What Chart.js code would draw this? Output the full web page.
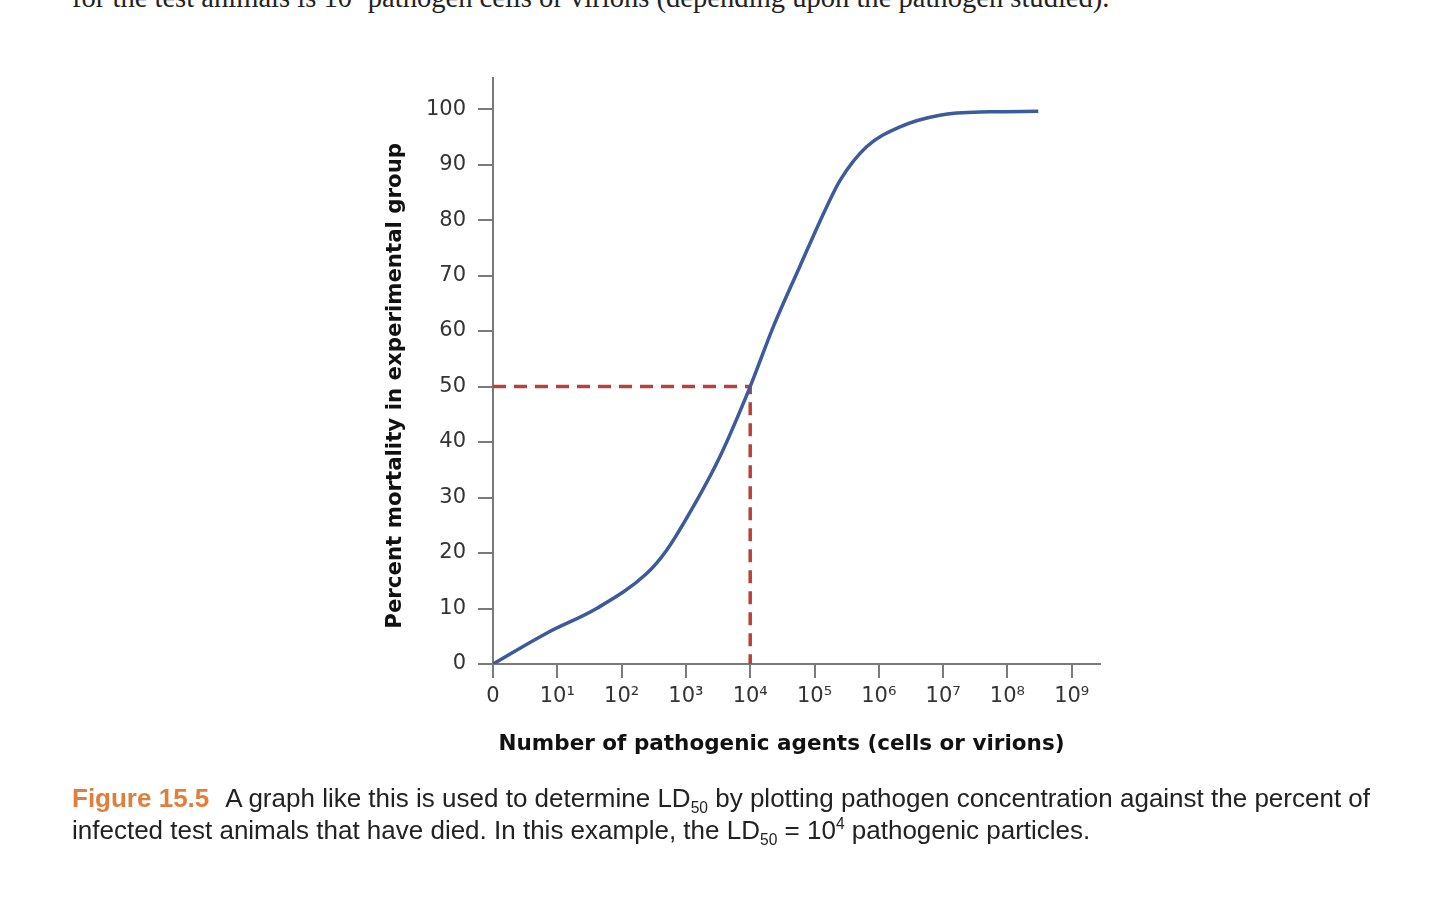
<!DOCTYPE html>
<html>
<head>
<meta charset="utf-8">
<script src="https://cdn.jsdelivr.net/npm/chart.js@4.4.1/dist/chart.umd.min.js"></script>
<style>
  html, body { margin: 0; padding: 0; background: #fff; }
  body { width: 1440px; height: 910px; position: relative; overflow: hidden; }
  #wrap { position: absolute; left: 0; top: 0; width: 1440px; height: 910px; }
  #topline {
    position: absolute; left: 72px; top: -19px; margin: 0;
    font-family: "Liberation Serif", serif; font-size: 29px; color: #222;
    white-space: nowrap; transform: scaleX(0.985); transform-origin: left top;
  }
  #caption {
    position: absolute; left: 72px; top: 782px; margin: 0;
    font-family: "Liberation Sans", Arial, sans-serif; font-size: 26px; line-height: 32px;
    color: #222; white-space: nowrap;
  }
  #caption b { color: #e07f3c; margin-right: 16px; }
  sub, sup { font-size: 0.6em; line-height: 0; }
</style>
</head>
<body>
<p id="topline">for the test animals is 10<sup>4</sup> pathogen cells or virions (depending upon the pathogen studied).</p>
<div id="wrap"><canvas id="line"></canvas></div>
<p id="caption"><b>Figure 15.5</b>A graph like this is used to determine LD<sub>50</sub> by plotting pathogen concentration against the percent of<br>infected test animals that have died. In this example, the LD<sub>50</sub> = 10<sup>4</sup> pathogenic particles.</p>

<script>
// x is the power of ten (0 = no agents, 1 = 10^1 ...)
const doseExp   = [0, 0.84, 1.61, 2.39, 2.70, 3.17, 3.53, 4.0, 4.36, 4.77, 5.19, 5.40, 5.81, 6.33, 6.95, 7.73, 8.48];
const mortality = [0, 5.6, 10.0, 16.3, 20.5, 29.5, 37.4, 50, 60.8, 71.6, 82.4, 87.2, 93.2, 96.8, 98.9, 99.5, 99.6];

const ld50X = [0, 4, 4];
const ld50Y = [50, 50, 0];

const xTickLabels = ['0', '10¹', '10²', '10³', '10⁴', '10⁵', '10⁶', '10⁷', '10⁸', '10⁹'];
const yTicks = [0, 10, 20, 30, 40, 50, 60, 70, 80, 90, 100];

// titles are not centred on the axes in the original, trailing nbsp shifts them
const xTitle = 'Number of pathogenic agents (cells or virions)\u00a0\u00a0\u00a0\u00a0';
const yTitle = 'Percent mortality in experimental group\u00a0\u00a0\u00a0\u00a0';

let ctx = document.querySelector('#line');

const myChart = new Chart(ctx, {
  type: 'line',
  data: {
    datasets: [{
      label: 'Mortality',
      data: doseExp.map((x, i) => ({x: x, y: mortality[i]})),
      borderColor: '#3c5a9c',
      borderWidth: 3.5,
      pointRadius: 0,
      cubicInterpolationMode: 'monotone',
    }, {
      label: 'LD50',
      data: ld50X.map((x, i) => ({x: x, y: ld50Y[i]})),
      borderColor: '#b9413a',
      borderWidth: 3.5,
      borderDash: [13, 8],
      pointRadius: 0,
      tension: 0,
    }],
  },
  options: {
    responsive: true,
    maintainAspectRatio: false,
    animation: false,
    layout: { padding: { left: 370, top: 78, right: 340, bottom: 146 } },
    plugins: { legend: { display: false }, tooltip: { enabled: false } },
    scales: {
      x: {
        type: 'linear',
        min: 0,
        max: 9.44,
        afterBuildTicks: (scale) => {
          scale.ticks = xTickLabels.map((l, i) => ({value: i}));
        },
        afterFit: (scale) => { scale.height = 100; },
        ticks: {
          callback: (v) => xTickLabels[v],
          color: '#333',
          padding: 6,
          maxRotation: 0,
          font: { family: 'DejaVu Sans', size: 21 },
        },
        grid: { drawOnChartArea: false, drawTicks: true, tickLength: 14, color: '#7a7a7a', lineWidth: 2 },
        border: { color: '#7a7a7a', width: 2 },
        title: {
          display: true,
          text: xTitle,
          color: '#111',
          padding: { top: 0, bottom: 7 },
          font: { family: 'DejaVu Sans', size: 21.5, weight: 'bold' },
        },
      },
      y: {
        type: 'linear',
        min: 0,
        max: 105.6,
        afterBuildTicks: (scale) => {
          scale.ticks = yTicks.map((v) => ({value: v}));
        },
        afterFit: (scale) => { scale.width = 123; },
        ticks: {
          color: '#333',
          padding: 12,
          font: { family: 'DejaVu Sans', size: 21 },
        },
        grid: { drawOnChartArea: false, drawTicks: true, tickLength: 15, color: '#7a7a7a', lineWidth: 2 },
        border: { color: '#7a7a7a', width: 2 },
        title: {
          display: true,
          text: yTitle,
          color: '#111',
          padding: { top: 13, bottom: 0 },
          font: { family: 'DejaVu Sans', size: 21.3, weight: 'bold' },
        },
      }
    }
  }
});
</script>
</body>
</html>
